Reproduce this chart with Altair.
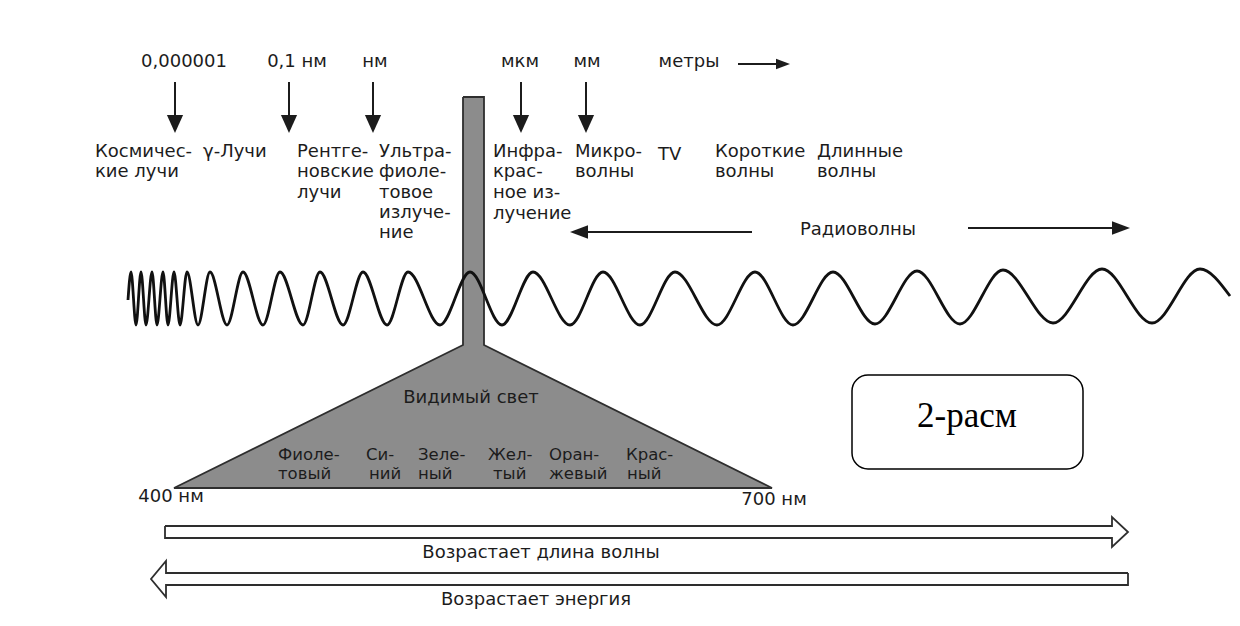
import altair as alt
import pandas as pd

# ---------------- data (page-pixel coordinates of the diagram) ----------------
# electromagnetic wave: successive extrema (crests / troughs)
wave_x = [128, 131, 136, 141, 146, 152, 157, 163, 168, 174, 180, 187, 198, 210, 227,
          243, 263, 280, 303, 320, 343, 363, 387, 408, 440, 470, 502, 533, 570, 603,
          640, 675, 717, 755, 793, 833, 875, 917, 960, 1003, 1053, 1102, 1152, 1200, 1230]
wave_y = [300, 272, 325, 272, 325, 272, 325, 272, 325, 272, 325, 272, 325, 272, 325,
          272, 325, 272, 325, 272, 325, 272, 325, 272, 325, 272, 325, 272, 325, 272,
          325, 272, 325, 272, 325, 272, 324, 271, 324, 270, 323, 269, 323, 269, 296]

# visible-light stem and triangle
stem_x, stem_x2, stem_y, stem_y2 = [463], [484], [97], [346]
tri_x = [174, 463, 484, 772]
tri_y = [488, 345, 345, 488]
tri_base = [488, 488, 488, 488]

# outlines: visible light shape and the two hollow arrows
outline_id = ["vis"] * 7 + ["len"] * 8 + ["en"] * 8
outline_x = [463, 484, 484, 772, 174, 463, 463,
             165, 1112, 1112, 1128, 1112, 1112, 165, 165,
             1128, 166, 166, 151, 166, 166, 1128, 1128]
outline_y = [97, 97, 345, 488, 488, 345, 97,
             526, 526, 517, 532, 547, 538, 538, 526,
             573, 573, 561, 579, 597, 585, 585, 573]

# down arrows under the scale labels
down_x = [175, 289, 373, 521, 586]
down_top = [82, 82, 82, 82, 82]
down_bot = [117, 117, 117, 117, 117]
down_head_y = [124, 124, 124, 124, 124]

# horizontal arrows: "метры ->", "<- Радиоволны ->"
harrow_x = [738, 586, 968]
harrow_x2 = [778, 752, 1113]
harrow_y = [64, 232, 228]
right_head_x = [783, 1121]
right_head_y = [64, 228]
right_head_size = [196, 324]
left_head_x = [579]
left_head_y = [232]

# scale labels (centered)
scale_text = ["0,000001", "0,1 нм", "нм", "мкм", "мм", "метры"]
scale_x = [184, 297, 375, 520, 587, 689]
scale_y = [62, 62, 62, 62, 62, 62]

# spectrum region labels (left aligned, one row per line)
region_text = ["Космичес-", "кие лучи", "γ-Лучи",
               "Рентге-", "новские", "лучи",
               "Ультра-", "фиоле-", "товое", "излуче-", "ние",
               "Инфра-", "крас-", "ное из-", "лучение",
               "Микро-", "волны", "TV",
               "Короткие", "волны", "Длинные", "волны"]
region_x = [95, 95, 203,
            297, 297, 297,
            379, 379, 379, 379, 379,
            493, 493, 493, 493,
            575, 575, 658,
            715, 715, 817, 817]
region_y = [152, 172, 152,
            152, 172, 193,
            152, 172, 193, 213, 233,
            152, 172, 193, 214,
            152, 172, 155,
            152, 172, 152, 172]

# colour names inside the triangle
color_text = ["Фиоле-", "товый", "Си-", "ний", "Зеле-", "ный",
              "Жел-", "тый", "Оран-", "жевый", "Крас-", "ный"]
color_x = [278, 278, 366, 369, 418, 418, 488, 493, 549, 549, 626, 627]
color_y = [455, 474, 455, 474, 455, 474, 455, 474, 455, 474, 455, 474]

# other centered labels
misc_text = ["Радиоволны", "Видимый свет", "400 нм", "700 нм",
             "Возрастает длина волны", "Возрастает энергия"]
misc_x = [858, 471, 171, 774, 541, 536]
misc_y = [230, 398, 497, 500, 553, 600]

# figure label box
box_x, box_x2, box_y, box_y2 = [852], [1083], [375], [469]
box_text, box_tx, box_ty = ["2-расм"], [967], [416]

# ---------------- chart ----------------
W, H = 1224, 610
xs = alt.Scale(domain=[8, 8 + W], nice=False, zero=False)
ys = alt.Scale(domain=[8, 8 + H], reverse=True, nice=False, zero=False)
X = lambda f: alt.X(f, type="quantitative", scale=xs, axis=None)
Y = lambda f: alt.Y(f, type="quantitative", scale=ys, axis=None)

INK = "#1c1c1c"
GRAY = "#8c8c8c"
FONT = "DejaVu Sans"

tri = alt.Chart(pd.DataFrame({"x": tri_x, "y": tri_y, "yb": tri_base})).mark_area(
    color=GRAY, opacity=1).encode(x=X("x"), y=Y("y"), y2=alt.Y2("yb"))

stem = alt.Chart(pd.DataFrame({"x": stem_x, "x2": stem_x2, "y": stem_y, "y2": stem_y2})).mark_rect(
    color=GRAY).encode(x=X("x"), x2="x2", y=Y("y"), y2="y2")

outl = pd.DataFrame({"id": outline_id, "x": outline_x, "y": outline_y,
                     "i": list(range(len(outline_x)))})
outlines = alt.Chart(outl).mark_line(color="#2e2e2e", strokeWidth=1.8,
                                     strokeJoin="miter").encode(
    x=X("x"), y=Y("y"), detail="id:N", order="i:Q")

wave = alt.Chart(pd.DataFrame({"x": wave_x, "y": wave_y})).mark_line(
    color="#111111", strokeWidth=2.8, interpolate="monotone").encode(x=X("x"), y=Y("y"))

down_df = pd.DataFrame({"x": down_x, "y": down_top, "y2": down_bot, "hy": down_head_y})
down_shafts = alt.Chart(down_df).mark_rule(color=INK, strokeWidth=2).encode(
    x=X("x"), y=Y("y"), y2="y2")
down_heads = alt.Chart(down_df).mark_point(
    filled=True, opacity=1, color=INK, size=324,
    shape="M-0.9,-1L0.9,-1L0,1Z").encode(x=X("x"), y=Y("hy"))

h_shafts = alt.Chart(pd.DataFrame({"x": harrow_x, "x2": harrow_x2, "y": harrow_y})).mark_rule(
    color=INK, strokeWidth=2).encode(x=X("x"), x2="x2", y=Y("y"))
r_heads = alt.Chart(pd.DataFrame({"x": right_head_x, "y": right_head_y, "s": right_head_size})).mark_point(
    filled=True, opacity=1, color=INK, shape="M-1,-0.75L1,0L-1,0.75Z").encode(
    x=X("x"), y=Y("y"), size=alt.Size("s:Q", scale=None))
l_heads = alt.Chart(pd.DataFrame({"x": left_head_x, "y": left_head_y})).mark_point(
    filled=True, opacity=1, color=INK, size=324, shape="M1,-0.75L-1,0L1,0.75Z").encode(
    x=X("x"), y=Y("y"))

scale_lbl = alt.Chart(pd.DataFrame({"t": scale_text, "x": scale_x, "y": scale_y})).mark_text(
    font=FONT, fontSize=18, color=INK, align="center", baseline="middle").encode(
    x=X("x"), y=Y("y"), text="t:N")

region_lbl = alt.Chart(pd.DataFrame({"t": region_text, "x": region_x, "y": region_y})).mark_text(
    font=FONT, fontSize=18, color=INK, align="left", baseline="middle").encode(
    x=X("x"), y=Y("y"), text="t:N")

color_lbl = alt.Chart(pd.DataFrame({"t": color_text, "x": color_x, "y": color_y})).mark_text(
    font=FONT, fontSize=16.5, color=INK, align="left", baseline="middle").encode(
    x=X("x"), y=Y("y"), text="t:N")

misc_lbl = alt.Chart(pd.DataFrame({"t": misc_text, "x": misc_x, "y": misc_y})).mark_text(
    font=FONT, fontSize=18, color=INK, align="center", baseline="middle").encode(
    x=X("x"), y=Y("y"), text="t:N")

box = alt.Chart(pd.DataFrame({"x": box_x, "x2": box_x2, "y": box_y, "y2": box_y2})).mark_rect(
    fill="white", stroke="black", strokeWidth=1.5, cornerRadius=16).encode(
    x=X("x"), x2="x2", y=Y("y"), y2="y2")
box_lbl = alt.Chart(pd.DataFrame({"t": box_text, "x": box_tx, "y": box_ty})).mark_text(
    font="Liberation Serif", fontSize=35, color="black", align="center", baseline="middle").encode(
    x=X("x"), y=Y("y"), text="t:N")

chart = alt.layer(
    tri, stem, outlines, wave, down_shafts, down_heads, h_shafts, r_heads, l_heads,
    scale_lbl, region_lbl, color_lbl, misc_lbl, box, box_lbl
).properties(
    width=W, height=H, padding=0, background="white",
    autosize=alt.AutoSizeParams(type="none")
).configure_view(stroke=None)

chart.save("out.html", embed_options={"renderer": "svg", "actions": False})
